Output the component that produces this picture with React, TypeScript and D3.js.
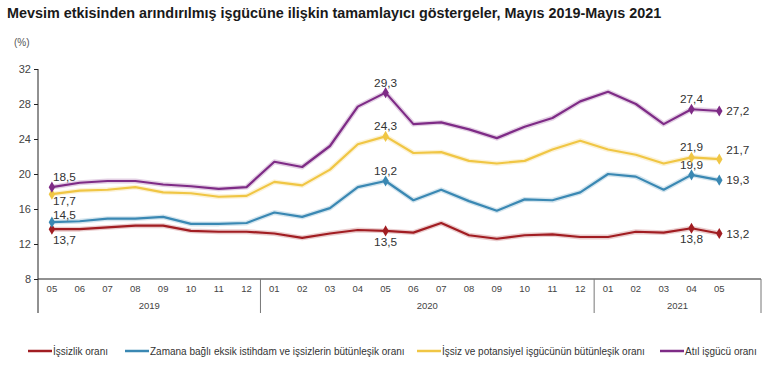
import React, { useEffect, useRef } from 'react';
import * as d3 from 'd3';

// Months May 2019 - May 2021
const months = [
  '05', '06', '07', '08', '09', '10', '11', '12',
  '01', '02', '03', '04', '05', '06', '07', '08', '09', '10', '11', '12',
  '01', '02', '03', '04', '05',
];
const years = ['2019', '2020', '2021'];
const monthsPerYear = [8, 12, 5];
const yTicks = [8, 12, 16, 20, 24, 28, 32];

const unemployment = [13.7, 13.7, 13.9, 14.1, 14.1, 13.5, 13.4, 13.4, 13.2, 12.7, 13.2, 13.6, 13.5, 13.3, 14.4, 13.0, 12.6, 13.0, 13.1, 12.8, 12.8, 13.4, 13.3, 13.8, 13.2];
const timeRelated = [14.5, 14.6, 14.9, 14.9, 15.1, 14.3, 14.3, 14.4, 15.6, 15.1, 16.1, 18.5, 19.2, 17.0, 18.2, 16.9, 15.8, 17.1, 17.0, 17.9, 20.0, 19.7, 18.2, 19.9, 19.3];
const potential = [17.7, 18.1, 18.2, 18.5, 17.9, 17.8, 17.4, 17.5, 19.1, 18.7, 20.5, 23.4, 24.3, 22.4, 22.5, 21.5, 21.2, 21.5, 22.8, 23.8, 22.8, 22.2, 21.2, 21.9, 21.7];
const slack = [18.5, 19.0, 19.2, 19.2, 18.8, 18.6, 18.3, 18.5, 21.4, 20.8, 23.2, 27.7, 29.3, 25.7, 25.9, 25.1, 24.1, 25.4, 26.4, 28.3, 29.4, 28.0, 25.7, 27.4, 27.2];

const seriesNames = [
  'İşsizlik oranı',
  'Zamana bağlı eksik istihdam ve işsizlerin bütünleşik oranı',
  'İşsiz ve potansiyel işgücünün bütünleşik oranı',
  'Atıl işgücü oranı',
];
const labelIdx = [0, 12, 23, 24];

const series = [
  { name: seriesNames[0], values: unemployment, color: '#a11d22', pos: ['below', 'below', 'below', 'right'] },
  { name: seriesNames[1], values: timeRelated, color: '#3a88b3', pos: ['aboveTight', 'above', 'above', 'right'] },
  { name: seriesNames[2], values: potential, color: '#f0c644', pos: ['belowTight', 'above', 'above', 'rightUp'] },
  { name: seriesNames[3], values: slack, color: '#7e2b86', pos: ['above', 'above', 'above', 'right'] },
];

const font = '"Liberation Sans", Arial, sans-serif';

const App: React.FC = () => {
  const svgRef = useRef<SVGSVGElement>(null);

  useEffect(() => {
    if (!svgRef.current) return;
    const svg = d3.select(svgRef.current);
    svg.selectAll('*').remove();

    const left = 38, right = 761, top = 69, bottom = 279;

    // one empty slot after the last month, like the source
    const x = d3.scaleBand<number>()
      .domain(d3.range(months.length + 1))
      .range([left, right]);
    const cx = (i: number) => (x(i) as number) + x.bandwidth() / 2;
    const y = d3.scaleLinear().domain([8, 32]).range([bottom, top]);

    // title
    svg.append('text')
      .attr('x', 7).attr('y', 18)
      .attr('font-family', font).attr('font-size', 14.4).attr('font-weight', 'bold')
      .attr('fill', '#1a1a1a')
      .text('Mevsim etkisinden arındırılmış işgücüne ilişkin tamamlayıcı göstergeler, Mayıs 2019-Mayıs 2021');

    svg.append('text')
      .attr('x', 14).attr('y', 46)
      .attr('font-family', font).attr('font-size', 10).attr('fill', '#555')
      .text('(%)');

    // Y axis
    const yAxis = svg.append('g')
      .attr('transform', `translate(${left},0)`)
      .call(d3.axisLeft(y).tickValues(yTicks).tickSize(4).tickPadding(3).tickFormat(d3.format('d')));
    yAxis.select('.domain').remove();
    yAxis.selectAll('line').attr('stroke', '#222');
    yAxis.selectAll('text').attr('font-family', font).attr('font-size', 11).attr('fill', '#444');
    svg.append('line')
      .attr('x1', left).attr('x2', left).attr('y1', top).attr('y2', 313)
      .attr('stroke', '#222');

    // X axis
    svg.append('line')
      .attr('x1', left).attr('x2', right).attr('y1', bottom).attr('y2', bottom)
      .attr('stroke', '#222');
    svg.append('g').selectAll('text')
      .data(months)
      .enter().append('text')
      .attr('x', (_, i) => cx(i)).attr('y', 292)
      .attr('text-anchor', 'middle')
      .attr('font-family', font).attr('font-size', 9.5).attr('fill', '#444')
      .text(d => d);

    // year groups
    const starts = monthsPerYear.map((_, i) => d3.sum(monthsPerYear.slice(0, i)));
    years.forEach((yr, i) => {
      const x0 = x(starts[i]) as number;
      const x1 = i === years.length - 1 ? right : (x(starts[i] + monthsPerYear[i]) as number);
      svg.append('text')
        .attr('x', (x0 + x1) / 2).attr('y', 309)
        .attr('text-anchor', 'middle')
        .attr('font-family', font).attr('font-size', 9.5).attr('fill', '#444')
        .text(yr);
      if (i > 0) {
        svg.append('line')
          .attr('x1', x0).attr('x2', x0).attr('y1', bottom).attr('y2', 313)
          .attr('stroke', '#777');
      }
    });
    svg.append('line')
      .attr('x1', right).attr('x2', right).attr('y1', bottom).attr('y2', 313)
      .attr('stroke', '#777');

    const line = d3.line<number>()
      .x((_, i) => cx(i))
      .y(d => y(d));

    series.forEach(s => {
      // soft glow
      svg.append('path')
        .datum(s.values)
        .attr('fill', 'none')
        .attr('stroke', s.color)
        .attr('stroke-opacity', 0.22)
        .attr('stroke-width', 5)
        .attr('stroke-linejoin', 'round')
        .attr('d', line);
      svg.append('path')
        .datum(s.values)
        .attr('fill', 'none')
        .attr('stroke', s.color)
        .attr('stroke-width', 2.2)
        .attr('stroke-linejoin', 'round')
        .attr('d', line);

      labelIdx.forEach((idx, k) => {
        const px = cx(idx), py = y(s.values[idx]);
        svg.append('path')
          .attr('d', d3.symbol(d3.symbolDiamond, 36)())
          .attr('transform', `translate(${px},${py})`)
          .attr('fill', s.color);

        const p = s.pos[k];
        let tx = px, ty = py, anchor = 'middle';
        if (p === 'above') ty = py - 6;
        if (p === 'aboveTight') ty = py - 3.5;
        if (p === 'below') ty = py + 15;
        if (p === 'belowTight') ty = py + 11;
        if (p === 'right') { tx = px + 7; ty = py + 4; anchor = 'start'; }
        if (p === 'rightUp') { tx = px + 7; ty = py - 5; anchor = 'start'; }
        if (idx === 0) { tx = px + 1; anchor = 'start'; }
        svg.append('text')
          .attr('x', tx).attr('y', ty)
          .attr('text-anchor', anchor)
          .attr('font-family', font).attr('font-size', 11.8).attr('fill', '#333')
          .text(d3.format('.1f')(s.values[idx]).replace('.', ','));
      });
    });

    // legend
    const legend = svg.append('g');
    const lx = [28, 125, 417, 660];
    series.forEach((s, i) => {
      legend.append('line')
        .attr('x1', lx[i]).attr('x2', lx[i] + 24).attr('y1', 351).attr('y2', 351)
        .attr('stroke', s.color).attr('stroke-width', 2.5);
      legend.append('text')
        .attr('x', lx[i] + 25).attr('y', 354.5)
        .attr('font-family', font).attr('font-size', 10).attr('fill', '#333')
        .text(s.name);
    });
  }, []);

  return (
    <svg ref={svgRef} width={770} height={368} style={{ position: 'absolute', left: 0, top: 0, background: '#fff' }} />
  );
};

export default App;
